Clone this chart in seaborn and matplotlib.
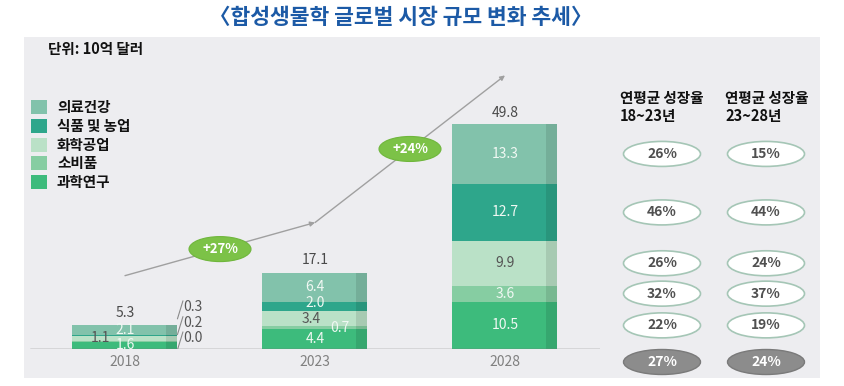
import numpy as np
import pandas as pd
import matplotlib
matplotlib.use('Agg')
import matplotlib.pyplot as plt
from matplotlib.patches import Ellipse, Rectangle
import seaborn as sns

# ---- data (stack order: bottom -> top) ----
years = ['2018', '2023', '2028']
categories = ['과학연구', '소비품', '화학공업', '식품 및 농업', '의료건강']
science = [1.6, 4.4, 10.5]
consumer = [0.2, 0.7, 3.6]
chemical = [1.1, 3.4, 9.9]
food_agri = [0.3, 2.0, 12.7]
health = [2.1, 6.4, 13.3]
totals = [5.3, 17.1, 49.8]
growth_labels = ['+27%', '+24%']
cagr_18_23 = ['22%', '32%', '26%', '46%', '26%']
cagr_23_28 = ['19%', '37%', '24%', '44%', '15%']
cagr_total = ['27%', '24%']
cagr_headers = ['연평균 성장율\n18~23년', '연평균 성장율\n23~28년']
callouts_2018 = ['0.3', '0.2', '0.0']

colors = ['#3dbb7c', '#86cda2', '#bae1c7', '#2ea68b', '#82c2ab']

sns.set_theme(style='white')
plt.rcParams['font.family'] = ['Noto Sans CJK KR', 'DejaVu Sans']

W, H = 845, 386
fig = plt.figure(figsize=(W / 100, H / 100), dpi=100)
fig.patch.set_facecolor('white')

# grey panel
fig.add_artist(Rectangle((24 / W, 8 / H), 796 / W, 341 / H, transform=fig.transFigure,
                         facecolor='#ededf0', edgecolor='none', zorder=-1))

PX_PER_UNIT = 4.5
ax = fig.add_axes([30 / W, 37 / H, 570 / W, 309 / H])
ax.set_facecolor('none')

df = pd.DataFrame({'year': years, '과학연구': science, '소비품': consumer,
                   '화학공업': chemical, '식품 및 농업': food_agri, '의료건강': health})
cum = df.copy()
cum[categories] = df[categories].cumsum(axis=1)

BAR_W = 105 / 190
for cat, col in reversed(list(zip(categories, colors))):
    sns.barplot(data=cum, x='year', y=cat, color=col, width=BAR_W, saturation=1,
                linewidth=0, ax=ax, zorder=2)

# darker side strip on each bar
STRIP = 11 / 190
bases = (cum[categories] - df[categories]).values
vals = df[categories].values
for xi in range(len(years)):
    ax.bar(xi + BAR_W / 2 - STRIP / 2, vals[xi], bottom=bases[xi], width=STRIP,
           color='black', alpha=0.1, linewidth=0, zorder=3)

ax.set_xlim(-0.5, 2.5)
ax.set_ylim(0, 309 / PX_PER_UNIT)
ax.axhline(0, color='#7a7a7a', lw=1, zorder=4)
for s in ax.spines.values():
    s.set_visible(False)
ax.set_xlabel('')
ax.set_ylabel('')
ax.set_yticks([])
ax.tick_params(axis='x', length=0, pad=4, labelsize=10, labelcolor='#808080')

NUM_FS = 10
# segment labels
light_txt = '#f0f8f3'
dark_txt = '#555555'
for xi in range(len(years)):
    for ci, cat in enumerate(categories):
        v = vals[xi][ci]
        yc = bases[xi][ci] + v / 2
        tc = dark_txt if cat == '화학공업' else light_txt
        if xi == 0 and v < 0.5:
            continue  # shown as callouts
        dx, dy = 0, 0
        if xi == 0 and cat == '화학공업':
            dx = -0.13
        if xi == 1 and v < 1:
            dx = 0.13
            tc = light_txt
        if xi == 1 and cat == '식품 및 농업':
            dy = 0.7
        if xi == 1 and cat == '화학공업':
            dx, dy = -0.02, -0.2
        ax.text(xi + dx, yc + dy, f'{v:.1f}', ha='center', va='center', fontsize=NUM_FS,
                color=tc, zorder=5)

# totals above bars
for xi, t in enumerate(totals):
    ax.text(xi, t + 2.7, f'{t:.1f}', ha='center', va='center', fontsize=NUM_FS,
            color='#4a4a4a', zorder=5)

# callouts for 2018 small segments
cy = [9.3, 5.8, 2.4]
for lab, y in zip(callouts_2018, cy):
    ax.text(0.305, y, lab, ha='left', va='center', fontsize=NUM_FS, color='#555555', zorder=5)
    ax.plot([0.305, 0.276], [y + 1.4, y - 2.6], color='#8a8a8a', lw=0.8, zorder=5)

# trend arrow line following totals
trend = [t + 11 for t in totals]
for i in range(len(trend) - 1):
    ax.annotate('', xy=(i + 1, trend[i + 1]), xytext=(i, trend[i]),
                arrowprops=dict(arrowstyle='-|>', color='#a0a0a0', lw=1,
                                mutation_scale=7, shrinkA=0, shrinkB=0), zorder=3)
for i, g in enumerate(growth_labels):
    mx, my = i + 0.5, (trend[i] + trend[i + 1]) / 2
    ax.add_patch(Ellipse((mx, my), 62 / 190, 25 / PX_PER_UNIT, facecolor='#7cc247',
                         edgecolor='#6fb63c', lw=0.8, zorder=6))
    ax.text(mx, my, g, ha='center', va='center', fontsize=9.5, color='white',
            fontweight='bold', zorder=7)

# CAGR table on the right, rows aligned with 2028 segments
col_x = [(662 - 125) / 190, (766 - 125) / 190]
head_x = [(620 - 125) / 190, (725 - 125) / 190]
row_y = [bases[2][ci] + vals[2][ci] / 2 for ci in range(len(categories))]
EW, EH = 77 / 190, 25 / PX_PER_UNIT
for cx, hx, hdr, col_vals, tot in zip(col_x, head_x, cagr_headers,
                                      [cagr_18_23, cagr_23_28], cagr_total):
    ax.text(hx, (349 - 107) / PX_PER_UNIT, hdr, ha='left', va='center', fontsize=10.5,
            fontweight='bold', color='#111111', linespacing=1.1, clip_on=False)
    for y, lab in zip(row_y, col_vals):
        ax.add_patch(Ellipse((cx, y), EW, EH, facecolor='white', edgecolor='#a5c6b6',
                             lw=1.2, clip_on=False, zorder=6))
        ax.text(cx, y, lab, ha='center', va='center', fontsize=10, fontweight='bold',
                color='#505050', clip_on=False, zorder=7)
    ty = -13 / PX_PER_UNIT
    ax.add_patch(Ellipse((cx, ty), EW, EH, facecolor='#8c8c8c', edgecolor='#7a7a7a',
                         lw=1, clip_on=False, zorder=6))
    ax.text(cx, ty, tot, ha='center', va='center', fontsize=10, fontweight='bold',
            color='white', clip_on=False, zorder=7)

# title and unit
fig.text(401 / W, 1 - 18 / H, '〈합성생물학 글로벌 시장 규모 변화 추세〉', ha='center',
         va='center', fontsize=15.5, fontweight='bold', color='#1c5aa6')
fig.text(48 / W, 1 - 49 / H, '단위: 10억 달러', ha='left', va='center', fontsize=10.5,
         fontweight='bold', color='#111111')

# legend (top -> bottom)
for i, (cat, col) in enumerate(zip(reversed(categories), reversed(colors))):
    yc = 107 + i * 18.8
    fig.add_artist(Rectangle((31 / W, 1 - (yc + 7) / H), 16 / W, 14 / H,
                             transform=fig.transFigure, facecolor=col, edgecolor='none'))
    fig.text(57 / W, 1 - yc / H, cat, ha='left', va='center', fontsize=10.5,
             fontweight='bold', color='#111111')

fig.savefig('out.png', dpi=100)
